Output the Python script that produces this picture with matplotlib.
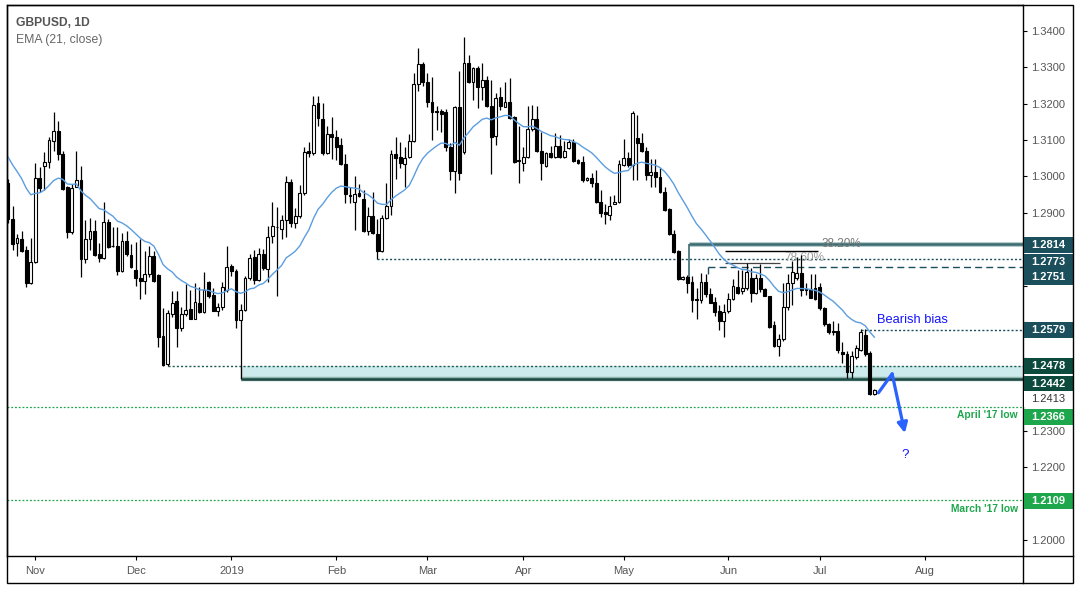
import numpy as np
import pandas as pd
import matplotlib
matplotlib.use("Agg")
import matplotlib.pyplot as plt
import matplotlib.transforms as mtransforms
from matplotlib.patches import Rectangle
from matplotlib.lines import Line2D

plt.rcParams['font.family'] = ['Liberation Sans', 'DejaVu Sans']

# GBPUSD daily bars, 24 Oct 2018 -> 17 Jul 2019 (weekdays)
start_date = "2018-10-24"
end_date = "2019-07-17"

opens = [
    1.2981, 1.2882, 1.2816, 1.2827, 1.2798, 1.2706, 1.2766, 1.2995, 1.3030, 1.3039,
    1.3097, 1.3124, 1.3061, 1.2970, 1.2848, 1.2972, 1.2990, 1.2772, 1.2827, 1.2849,
    1.2787, 1.2775, 1.2874, 1.2809, 1.2809, 1.2741, 1.2823, 1.2784, 1.2744, 1.2722,
    1.2713, 1.2732, 1.2781, 1.2729, 1.2561, 1.2484, 1.2623, 1.2657, 1.2582, 1.2622,
    1.2636, 1.2609, 1.2653, 1.2627, 1.2709, 1.2674, 1.2631, 1.2640, 1.2688, 1.2755,
    1.2741, 1.2605, 1.2633, 1.2720, 1.2778, 1.2715, 1.2788, 1.2745, 1.2837, 1.2860,
    1.2855, 1.2879, 1.2986, 1.2871, 1.2891, 1.2955, 1.3070, 1.3064, 1.3203, 1.3157,
    1.3065, 1.3117, 1.3109, 1.3087, 1.3034, 1.2949, 1.2931, 1.2955, 1.2937, 1.2851,
    1.2891, 1.2843, 1.2796, 1.2885, 1.2919, 1.3062, 1.3053, 1.3034, 1.3053, 1.3097,
    1.3254, 1.3309, 1.3261, 1.3206, 1.3180, 1.3180, 1.3178, 1.3082, 1.3016, 1.3190,
    1.3068, 1.3311, 1.3259, 1.3297, 1.3245, 1.3265, 1.3194, 1.3111, 1.3219, 1.3192,
    1.3206, 1.3163, 1.3044, 1.3036, 1.3053, 1.3130, 1.3158, 1.3071, 1.3029, 1.3064,
    1.3053, 1.3085, 1.3053, 1.3077, 1.3095, 1.3045, 1.3039, 1.2990, 1.2995, 1.2981,
    1.2931, 1.2901, 1.2894, 1.2924, 1.2929, 1.3032, 1.3052, 1.3032, 1.3105, 1.3093,
    1.3071, 1.3004, 1.3012, 1.2998, 1.2958, 1.2910, 1.2842, 1.2796, 1.2719, 1.2723,
    1.2711, 1.2662, 1.2660, 1.2711, 1.2678, 1.2656, 1.2631, 1.2603, 1.2631, 1.2662,
    1.2697, 1.2686, 1.2692, 1.2722, 1.2680, 1.2720, 1.2690, 1.2671, 1.2591, 1.2534,
    1.2552, 1.2642, 1.2708, 1.2720, 1.2734, 1.2690, 1.2690, 1.2692, 1.2695, 1.2637,
    1.2594, 1.2576, 1.2576, 1.2518, 1.2513, 1.2463, 1.2504, 1.2524, 1.2564, 1.2514,
    1.2401,
]
highs = [
    1.2992, 1.2920, 1.2842, 1.2851, 1.2809, 1.2831, 1.3036, 1.3025, 1.3066, 1.3109,
    1.3176, 1.3152, 1.3070, 1.2974, 1.2979, 1.3071, 1.3029, 1.2880, 1.2886, 1.2880,
    1.2818, 1.2931, 1.2884, 1.2862, 1.2862, 1.2845, 1.2849, 1.2814, 1.2821, 1.2827,
    1.2796, 1.2809, 1.2796, 1.2731, 1.2637, 1.2633, 1.2686, 1.2686, 1.2640, 1.2704,
    1.2688, 1.2708, 1.2695, 1.2738, 1.2712, 1.2692, 1.2651, 1.2710, 1.2810, 1.2758,
    1.2745, 1.2649, 1.2726, 1.2787, 1.2798, 1.2802, 1.2800, 1.2864, 1.2931, 1.2917,
    1.2894, 1.3000, 1.2992, 1.2914, 1.2976, 1.3082, 1.3096, 1.3221, 1.3221, 1.3203,
    1.3139, 1.3163, 1.3128, 1.3105, 1.3062, 1.2970, 1.3000, 1.2979, 1.2964, 1.2915,
    1.2958, 1.2882, 1.2894, 1.2983, 1.3074, 1.3109, 1.3096, 1.3082, 1.3117, 1.3284,
    1.3352, 1.3316, 1.3285, 1.3273, 1.3194, 1.3186, 1.3185, 1.3093, 1.3194, 1.3291,
    1.3383, 1.3334, 1.3302, 1.3304, 1.3313, 1.3276, 1.3265, 1.3229, 1.3245, 1.3261,
    1.3270, 1.3165, 1.3139, 1.3082, 1.3194, 1.3197, 1.3194, 1.3123, 1.3068, 1.3084,
    1.3120, 1.3114, 1.3098, 1.3102, 1.3102, 1.3047, 1.3056, 1.2998, 1.3010, 1.3018,
    1.2963, 1.2925, 1.2945, 1.2949, 1.3045, 1.3102, 1.3067, 1.3180, 1.3169, 1.3119,
    1.3082, 1.3047, 1.3047, 1.3022, 1.2970, 1.2912, 1.2853, 1.2798, 1.2725, 1.2728,
    1.2725, 1.2693, 1.2735, 1.2733, 1.2693, 1.2669, 1.2647, 1.2650, 1.2680, 1.2717,
    1.2744, 1.2742, 1.2763, 1.2747, 1.2732, 1.2759, 1.2693, 1.2671, 1.2603, 1.2568,
    1.2706, 1.2732, 1.2768, 1.2779, 1.2784, 1.2707, 1.2733, 1.2733, 1.2708, 1.2640,
    1.2596, 1.2603, 1.2597, 1.2546, 1.2520, 1.2520, 1.2537, 1.2580, 1.2580, 1.2519,
    1.2415,
]
lows = [
    1.2871, 1.2799, 1.2781, 1.2793, 1.2697, 1.2704, 1.2762, 1.2956, 1.2964, 1.3024,
    1.3070, 1.3046, 1.2963, 1.2830, 1.2843, 1.2970, 1.2724, 1.2763, 1.2799, 1.2781,
    1.2766, 1.2773, 1.2803, 1.2805, 1.2728, 1.2737, 1.2781, 1.2747, 1.2699, 1.2662,
    1.2677, 1.2724, 1.2710, 1.2532, 1.2478, 1.2478, 1.2614, 1.2532, 1.2576, 1.2616,
    1.2607, 1.2607, 1.2624, 1.2625, 1.2667, 1.2629, 1.2616, 1.2633, 1.2683, 1.2726,
    1.2584, 1.2442, 1.2630, 1.2715, 1.2704, 1.2712, 1.2743, 1.2711, 1.2816, 1.2672,
    1.2827, 1.2834, 1.2862, 1.2858, 1.2887, 1.2949, 1.3054, 1.3060, 1.3139, 1.3059,
    1.3062, 1.3047, 1.3045, 1.3032, 1.2928, 1.2926, 1.2854, 1.2944, 1.2848, 1.2839,
    1.2842, 1.2773, 1.2793, 1.2882, 1.2894, 1.2992, 1.3022, 1.2970, 1.3050, 1.3095,
    1.3236, 1.3249, 1.3190, 1.3100, 1.3128, 1.3123, 1.3071, 1.2990, 1.2955, 1.2990,
    1.3063, 1.3256, 1.3210, 1.3187, 1.3210, 1.3192, 1.3006, 1.3087, 1.3183, 1.3190,
    1.3157, 1.3036, 1.2981, 1.3016, 1.3050, 1.3126, 1.3068, 1.2990, 1.3027, 1.3050,
    1.3050, 1.3050, 1.3050, 1.3075, 1.3041, 1.3034, 1.2986, 1.2988, 1.2970, 1.2928,
    1.2889, 1.2869, 1.2880, 1.2924, 1.2926, 1.3030, 1.3027, 1.2990, 1.2990, 1.3068,
    1.2990, 1.2972, 1.2972, 1.2955, 1.2905, 1.2839, 1.2790, 1.2715, 1.2714, 1.2679,
    1.2626, 1.2607, 1.2651, 1.2669, 1.2651, 1.2616, 1.2579, 1.2559, 1.2624, 1.2660,
    1.2677, 1.2677, 1.2689, 1.2656, 1.2678, 1.2683, 1.2670, 1.2582, 1.2532, 1.2506,
    1.2548, 1.2633, 1.2646, 1.2716, 1.2671, 1.2674, 1.2665, 1.2660, 1.2634, 1.2589,
    1.2567, 1.2565, 1.2515, 1.2486, 1.2445, 1.2445, 1.2499, 1.2521, 1.2506, 1.2399,
    1.2399,
]
closes = [
    1.2882, 1.2814, 1.2830, 1.2796, 1.2706, 1.2766, 1.2995, 1.2969, 1.3039, 1.3099,
    1.3124, 1.3061, 1.2965, 1.2848, 1.2967, 1.2990, 1.2772, 1.2827, 1.2849, 1.2785,
    1.2775, 1.2876, 1.2807, 1.2808, 1.2741, 1.2823, 1.2786, 1.2752, 1.2722, 1.2713,
    1.2732, 1.2781, 1.2713, 1.2559, 1.2482, 1.2625, 1.2651, 1.2582, 1.2622, 1.2634,
    1.2609, 1.2655, 1.2627, 1.2689, 1.2672, 1.2631, 1.2640, 1.2697, 1.2752, 1.2741,
    1.2605, 1.2633, 1.2720, 1.2775, 1.2714, 1.2788, 1.2747, 1.2834, 1.2865, 1.2861,
    1.2879, 1.2986, 1.2871, 1.2891, 1.2955, 1.3066, 1.3064, 1.3196, 1.3160, 1.3064,
    1.3117, 1.3108, 1.3080, 1.3034, 1.2951, 1.2946, 1.2952, 1.2946, 1.2851, 1.2891,
    1.2845, 1.2796, 1.2887, 1.2919, 1.3062, 1.3050, 1.3038, 1.3050, 1.3098, 1.3254,
    1.3309, 1.3261, 1.3206, 1.3178, 1.3178, 1.3172, 1.3082, 1.3016, 1.3190, 1.3009,
    1.3311, 1.3259, 1.3297, 1.3245, 1.3265, 1.3194, 1.3109, 1.3215, 1.3194, 1.3206,
    1.3160, 1.3041, 1.3043, 1.3053, 1.3130, 1.3157, 1.3071, 1.3036, 1.3064, 1.3053,
    1.3085, 1.3053, 1.3071, 1.3095, 1.3043, 1.3038, 1.2990, 1.2995, 1.2981, 1.2931,
    1.2900, 1.2897, 1.2919, 1.2930, 1.3034, 1.3052, 1.3032, 1.3174, 1.3093, 1.3071,
    1.3004, 1.3012, 1.2999, 1.2958, 1.2908, 1.2842, 1.2793, 1.2717, 1.2723, 1.2708,
    1.2660, 1.2661, 1.2711, 1.2678, 1.2653, 1.2628, 1.2603, 1.2628, 1.2662, 1.2699,
    1.2680, 1.2692, 1.2738, 1.2680, 1.2720, 1.2690, 1.2671, 1.2587, 1.2534, 1.2552,
    1.2642, 1.2708, 1.2738, 1.2734, 1.2688, 1.2688, 1.2665, 1.2664, 1.2637, 1.2594,
    1.2573, 1.2571, 1.2523, 1.2513, 1.2463, 1.2506, 1.2527, 1.2573, 1.2512, 1.2403,
    1.2413,
]
ema_start = 1.3054   # EMA(21) value on the first visible bar
ema_period = 21

month_labels = ["Nov", "Dec", "2019", "Feb", "Mar", "Apr", "May", "Jun", "Jul", "Aug"]

# levels drawn on the chart and boxed on the price scale
level_values = [1.2814, 1.2773, 1.2751, 1.2579, 1.2478, 1.2442, 1.2413, 1.2366, 1.2109]
level_labels = ["1.2814", "1.2773", "1.2751", "1.2579", "1.2478", "1.2442", "1.2413", "1.2366", "1.2109"]
level_colors = ["#1b4f5c", "#1b4f5c", "#1b4f5c", "#1b4f5c", "#0c4a3d", "#0c4a3d", None, "#1ea64c", "#1ea64c"]
level_shift_px = [1.3, 2.7, 9.7, 0.5, 0.0, 4.3, 9.0, 9.7, 0.6]
# scale ticks hidden behind the level boxes
hidden_ticks = [1.28, 1.27, 1.26, 1.25, 1.24, 1.21]

# drawing tool anchors (bar index / price)
dec_low_bar = 35
jan_low_bar = 51
feb_low_bar = 81
fib_bar = 149.3
fib_bottom = 1.2715
dash_bar = 153.5
dash_bottom = 1.2733
bias_bar = 187
fib786_bars = [157.2, 177.6, 169.3]
fib786_prices = [1.2795, 1.2761]
arrow_x = [190.9, 193.9, 196.7]
arrow_y = [1.2405, 1.2457, 1.2294]

# ---------------------------------------------------------------
W, H = 1080, 590
fig = plt.figure(figsize=(W / 100, H / 100), dpi=100)
ax_l, ax_r, ax_t, ax_b = 7, 1023, 5, 556
ax = fig.add_axes([ax_l / W, 1 - ax_b / H, (ax_r - ax_l) / W, (ax_b - ax_t) / H])

o = np.array(opens)
h = np.array(highs)
l = np.array(lows)
c = np.array(closes)
x = np.arange(len(c))

ax.set_xlim(-0.21, 222.6)
ax.set_ylim(1.19561, 1.34715)
xmin, xmax = ax.get_xlim()
px = (ax.get_ylim()[1] - ax.get_ylim()[0]) / (ax_b - ax_t)

# candles
up = c >= o
body_lo = np.minimum(o, c)
body_h = np.maximum(np.abs(c - o), 0.00012)
ax.vlines(x, l, h, color="black", lw=0.9, zorder=3)
ax.bar(x[up], body_h[up], bottom=body_lo[up], width=0.62, color="white",
       edgecolor="black", linewidth=0.8, zorder=4)
ax.bar(x[~up], body_h[~up], bottom=body_lo[~up], width=0.62, color="black",
       edgecolor="black", linewidth=0.8, zorder=4)

# EMA(21, close)
alpha = 2 / (ema_period + 1)
ema = [ema_start]
for cl in closes[1:]:
    ema.append(ema[-1] + alpha * (cl - ema[-1]))
ax.plot(x, ema, color="#5b9ee0", lw=1.0, zorder=5)

# support zone Dec/Jan lows
teal = "#1b4f5c"
dots = (0, (1.5, 1.5))
ax.fill_between([jan_low_bar, xmax], level_values[5], level_values[4], color="#cdebec",
                zorder=1, lw=0)
ax.hlines(level_values[5], jan_low_bar, xmax, color="#8fb5b0", lw=3.2, zorder=2)
ax.hlines(level_values[5], jan_low_bar, xmax, color="#1f4a44", lw=1.8, zorder=2)
ax.vlines(jan_low_bar, level_values[5], level_values[4], color="#8fb5b0", lw=1.0, zorder=2)
ax.hlines(level_values[4], dec_low_bar, xmax, color="#1b5a50", lw=1.0, linestyles=dots, zorder=2)

# Feb low dotted, 38.2% fib, dashed level, bearish bias
ax.hlines(level_values[1], feb_low_bar, xmax, color=teal, lw=1.0, linestyles=dots, zorder=2)
ax.hlines(level_values[0], fib_bar, xmax, color="#a8c4c6", lw=3.4, zorder=2)
ax.hlines(level_values[0], fib_bar, xmax, color="#3b6b70", lw=1.8, zorder=2)
ax.vlines(fib_bar, fib_bottom, level_values[0], color="#3b6b70", lw=1.2, zorder=2)
ax.hlines(level_values[2], dash_bar, xmax, color=teal, lw=1.0, linestyles=(0, (5, 3)), zorder=2)
ax.vlines(dash_bar, dash_bottom, level_values[2], color=teal, lw=1.0, zorder=2)
ax.hlines(level_values[3], bias_bar, xmax, color=teal, lw=1.0, linestyles=dots, zorder=2)

# 78.6% fib legs
ax.hlines(fib786_prices[0], fib786_bars[0], fib786_bars[1], color="black", lw=1.0, zorder=2)
ax.hlines(fib786_prices[1], fib786_bars[0], fib786_bars[2], color="#444444", lw=0.9, zorder=2)

# April/March 2017 lows
ax.hlines(level_values[7], xmin, xmax, color="#1ea64c", lw=0.9, linestyles=dots, zorder=2)
ax.hlines(level_values[8], xmin, xmax, color="#1ea64c", lw=0.9, linestyles=dots, zorder=2)

# texts on chart
ax.text(182.7, level_values[0] + 0.3 * px, "38.20%", color="#777777", fontsize=8.5,
        ha="center", va="center", zorder=6)
ax.text(174.6, 1.2776, "78.60%", color="#9c9c9c", fontsize=8.5,
        ha="center", va="center", zorder=2)
ax.text(190.5, 1.2605, "Bearish bias", color="#1414ff", fontsize=9.3,
        ha="left", va="center", zorder=6)
ax.text(221.5, 1.2344, "April '17 low", color="#1ea64c", fontsize=7.4, fontweight="bold",
        ha="right", va="center", zorder=6)
ax.text(221.5, 1.2085, "March '17 low", color="#1ea64c", fontsize=7.4, fontweight="bold",
        ha="right", va="center", zorder=6)
ax.text(196.7, 1.2234, "?", color="#1414ff", fontsize=9.5, ha="center", va="center", zorder=6)

# projected path
ax.plot(arrow_x[:2], arrow_y[:2], color="#2962ff", lw=2.3, solid_capstyle="round", zorder=6)
ax.annotate("", xy=(arrow_x[2], arrow_y[2]), xytext=(arrow_x[1], arrow_y[1]),
            arrowprops=dict(arrowstyle="-|>,head_length=0.6,head_width=0.3",
                            color="#2962ff", lw=2.3, shrinkA=0, shrinkB=0), zorder=6)

# title
ax.text(9 / (ax_r - ax_l), 1 - 17.7 / (ax_b - ax_t), "GBPUSD, 1D", transform=ax.transAxes,
        fontsize=8.7, fontweight="bold", color="#555555", ha="left", va="center")
ax.text(9 / (ax_r - ax_l), 1 - 34.5 / (ax_b - ax_t), "EMA (21, close)", transform=ax.transAxes,
        fontsize=8.8, color="#666666", ha="left", va="center")

# axes styling
for sp in ax.spines.values():
    sp.set_color("black")
    sp.set_linewidth(1.0)
ax.yaxis.tick_right()
yt = np.round(np.arange(1.20, 1.3401, 0.01), 2)
ax.set_yticks(yt)
ax.set_yticklabels(["" if v in hidden_ticks else f"{v:.4f}" for v in yt])
ax.tick_params(axis="y", direction="out", length=3, width=0.8, pad=3,
               labelsize=8, labelcolor="#555555", color="black")

all_days = pd.bdate_range(start_date, "2019-08-30")
pos = pd.Series(np.arange(len(all_days)), index=all_days)
month_pos = pos.groupby([all_days.year, all_days.month]).first().values[1:]
ax.set_xticks(month_pos)
ax.set_xticklabels(month_labels)
ax.tick_params(axis="x", direction="out", length=3, width=0.8, pad=4,
               labelsize=8, labelcolor="#555555", color="black")

# price-scale boxes
trans = mtransforms.blended_transform_factory(ax.transAxes, ax.transData)
box_w = 50 / (ax_r - ax_l)
box_h = 16 * px
for val, lab, col, dy in zip(level_values, level_labels, level_colors, level_shift_px):
    yc = val - dy * px
    fc = col if col else "white"
    ax.add_patch(Rectangle((1.0 + 0.001, yc - box_h / 2), box_w, box_h, transform=trans,
                           facecolor=fc, edgecolor="none", clip_on=False, zorder=6))
    ax.text(1.0 + 8.5 / (ax_r - ax_l), yc, lab, transform=trans, ha="left", va="center",
            color="white" if col else "#333333", fontsize=8,
            fontweight="bold" if col else "normal", clip_on=False, zorder=7)

# outer frame
fig.add_artist(Rectangle((7 / W, 1 - 583 / H), (1073 - 7) / W, (583 - 5) / H,
                         transform=fig.transFigure, fill=False, edgecolor="black", lw=1.0))
fig.add_artist(Line2D([ax_r / W, ax_r / W], [1 - ax_b / H, 1 - 583 / H],
                      transform=fig.transFigure, color="black", lw=1.0))
fig.add_artist(Line2D([ax_r / W, 1073 / W], [1 - ax_b / H, 1 - ax_b / H],
                      transform=fig.transFigure, color="black", lw=1.0))

fig.savefig("out.png", dpi=100, facecolor="white")
